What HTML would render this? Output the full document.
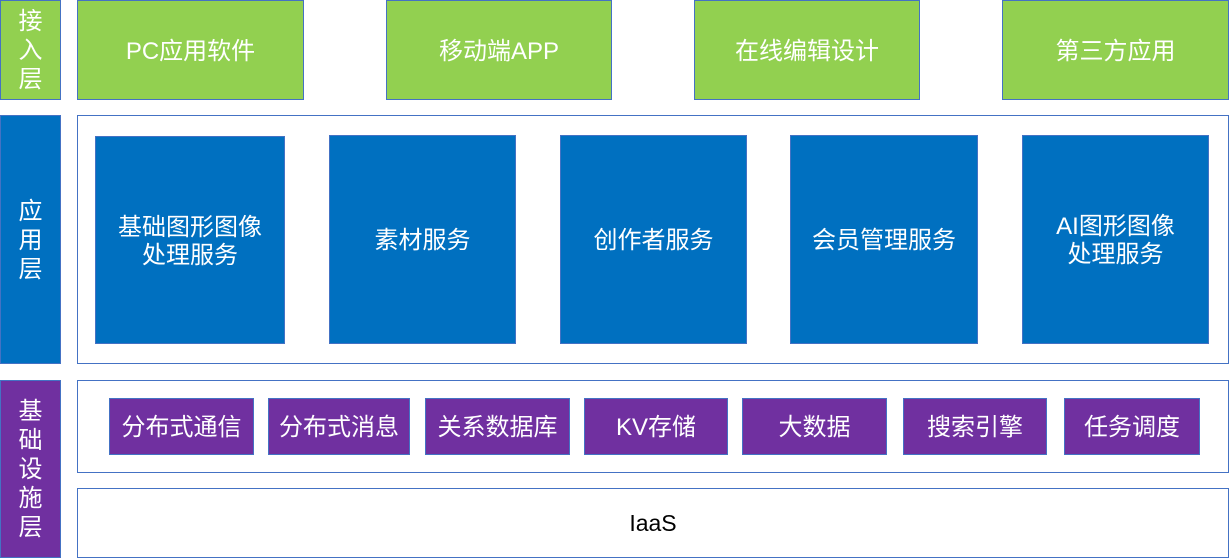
<!DOCTYPE html>
<html>
<head>
<meta charset="utf-8">
<style>
  html, body { margin:0; padding:0; background:#fff; }
  body { width:1230px; height:559px; position:relative; overflow:hidden;
         font-family:"Liberation Sans","Noto Sans CJK SC",sans-serif; }
  .b { position:absolute; box-sizing:border-box; border:1.5px solid #4472C4;
       display:flex; align-items:center; justify-content:center; text-align:center;
       font-size:24px; color:#fff; line-height:28px; }
  .g, .bl, .p { padding-top:3px; }
  .g { background:#92D050; }
  .bl { background:#0070C0; }
  .p { background:#7030A0; }
  .w { background:#fff; color:#000; }
  .lab { line-height:29px; padding-top:1px; }
</style>
</head>
<body>
  <!-- Access layer -->
  <div class="b g lab" style="left:0;top:0;width:61px;height:100px;">接<br>入<br>层</div>
  <div class="b g" style="left:77px;top:0;width:227px;height:100px;">PC应用软件</div>
  <div class="b g" style="left:386px;top:0;width:226px;height:100px;">移动端APP</div>
  <div class="b g" style="left:694px;top:0;width:226px;height:100px;">在线编辑设计</div>
  <div class="b g" style="left:1002px;top:0;width:227px;height:100px;">第三方应用</div>

  <!-- Application layer -->
  <div class="b bl lab" style="left:0;top:115px;width:61px;height:249px;">应<br>用<br>层</div>
  <div class="b w" style="left:77px;top:115px;width:1152px;height:249px;"></div>
  <div class="b bl" style="left:95px;top:136px;width:190px;height:208px;">基础图形图像<br>处理服务</div>
  <div class="b bl" style="left:329px;top:135px;width:187px;height:209px;">素材服务</div>
  <div class="b bl" style="left:560px;top:135px;width:187px;height:209px;">创作者服务</div>
  <div class="b bl" style="left:790px;top:135px;width:188px;height:209px;">会员管理服务</div>
  <div class="b bl" style="left:1022px;top:135px;width:187px;height:209px;">AI图形图像<br>处理服务</div>

  <!-- Infrastructure layer -->
  <div class="b p lab" style="left:0;top:380px;width:61px;height:178px;">基<br>础<br>设<br>施<br>层</div>
  <div class="b w" style="left:77px;top:380px;width:1152px;height:93px;"></div>
  <div class="b p" style="left:109px;top:398px;width:145px;height:57px;">分布式通信</div>
  <div class="b p" style="left:268px;top:398px;width:142px;height:57px;">分布式消息</div>
  <div class="b p" style="left:425px;top:398px;width:145px;height:57px;">关系数据库</div>
  <div class="b p" style="left:584px;top:398px;width:144px;height:57px;">KV存储</div>
  <div class="b p" style="left:742px;top:398px;width:145px;height:57px;">大数据</div>
  <div class="b p" style="left:903px;top:398px;width:144px;height:57px;">搜索引擎</div>
  <div class="b p" style="left:1064px;top:398px;width:136px;height:57px;">任务调度</div>
  <div class="b w" style="left:77px;top:488px;width:1152px;height:70px;font-size:23px;">IaaS</div>
</body>
</html>
